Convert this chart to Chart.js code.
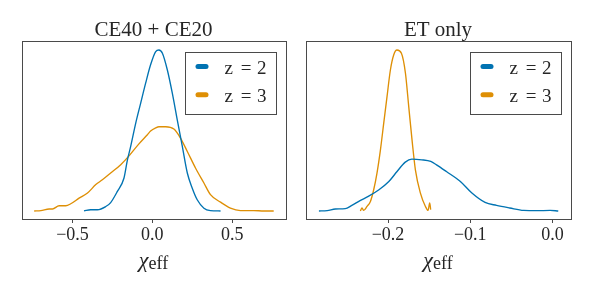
<!DOCTYPE html>
<html>
<head>
<meta charset="utf-8">
<script src="https://cdn.jsdelivr.net/npm/chart.js@4"></script>
<style>
  html, body { margin: 0; padding: 0; background: #fff; }
  #wrap { position: relative; width: 592px; height: 285px; }
  #wrap canvas { position: absolute; top: 0; }
</style>
</head>
<body>
<div id="wrap">
  <canvas id="ceChart" width="296" height="285" style="left:0"></canvas>
  <canvas id="etChart" width="296" height="285" style="left:296px"></canvas>
</div>
<script>
// Posterior densities of chi_eff
const ceZ2X = [-0.428, -0.386, -0.344, -0.292, -0.261, -0.219, -0.178, -0.156, -0.136, -0.104, -0.073, -0.042, -0.011, 0.021, 0.041, 0.063, 0.094, 0.125, 0.156, 0.188, 0.219, 0.250, 0.281, 0.323, 0.364, 0.427];
const ceZ2Y = [0.00, 0.03, 0.03, 0.11, 0.21, 0.49, 0.82, 1.28, 1.61, 2.20, 2.70, 3.20, 3.66, 3.99, 4.03, 3.95, 3.53, 2.95, 2.28, 1.61, 0.95, 0.57, 0.28, 0.07, 0.01, 0.00];
const ceZ3X = [-0.740, -0.698, -0.646, -0.625, -0.584, -0.542, -0.511, -0.459, -0.406, -0.354, -0.313, -0.261, -0.198, -0.146, -0.084, -0.031, -0.011, 0.021, 0.041, 0.083, 0.135, 0.177, 0.219, 0.271, 0.323, 0.364, 0.427, 0.489, 0.552, 0.635, 0.698, 0.760];
const ceZ3Y = [0.00, 0.01, 0.05, 0.05, 0.13, 0.13, 0.18, 0.32, 0.45, 0.66, 0.78, 0.95, 1.16, 1.38, 1.68, 1.91, 2.00, 2.08, 2.11, 2.11, 2.05, 1.82, 1.49, 1.07, 0.70, 0.41, 0.22, 0.07, 0.01, 0.01, 0.00, 0.00];

const etZ2X = [-0.284, -0.274, -0.264, -0.252, -0.244, -0.234, -0.224, -0.211, -0.199, -0.189, -0.179, -0.171, -0.159, -0.148, -0.141, -0.129, -0.112, -0.098, -0.082, -0.068, -0.052, -0.035, -0.019, -0.003, 0.007];
const etZ2Y = [0.00, 0.05, 0.36, 0.42, 1.03, 1.90, 2.69, 3.94, 5.47, 7.32, 9.06, 9.62, 9.49, 9.18, 8.56, 7.32, 5.47, 3.32, 1.58, 1.03, 0.55, 0.10, 0.05, 0.10, 0.00];
const etZ3X = [-0.2336, -0.2316, -0.2296, -0.2255, -0.2214, -0.2174, -0.2134, -0.2092, -0.2052, -0.2012, -0.1971, -0.1931, -0.1891, -0.1837, -0.1788, -0.1748, -0.1708, -0.1667, -0.1606, -0.1545, -0.1513, -0.1493, -0.1481];
const etZ3Y = [0.00, 0.55, 0.10, 0.84, 1.77, 3.94, 7.03, 11.34, 16.29, 21.21, 26.16, 28.94, 29.86, 29.25, 25.55, 19.36, 13.19, 7.64, 3.32, 0.84, 0.10, 1.47, 0.23];

const seriesLabels = ['z = 2', 'z = 3'];
const ceTicks = [-0.5, 0.0, 0.5];
const etTicks = [-0.2, -0.1, 0.0];
const ceRange = [-0.81, 0.837];
const etRange = [-0.2985, 0.0225];

const BLUE = '#0173b2';
const ORANGE = '#de8f05';
const INK = '#262626';
const EDGE = '#4a4a4a';
const SERIF = '"Liberation Serif", "Times New Roman", serif';

function fmtTick(v) {
    const s = Math.abs(v).toFixed(1);
    return v < -1e-9 ? '\u2212' + s : s;
}

// frame, title, legend box and x label, drawn matplotlib-style
const panelDecor = {
    id: 'panelDecor',
    afterDraw(chart, args, opts) {
        const ctx = chart.ctx;
        const a = chart.chartArea;
        ctx.save();

        ctx.strokeStyle = EDGE;
        ctx.lineWidth = 1;
        ctx.strokeRect(a.left - 0.5, a.top - 0.5, a.right - a.left + 1, a.bottom - a.top + 1);

        const cx = (a.left + a.right) / 2;
        ctx.fillStyle = INK;
        ctx.textBaseline = 'alphabetic';
        ctx.textAlign = 'center';
        ctx.font = '21px ' + SERIF;
        ctx.fillText(opts.title, cx - 1, 36);

        // legend
        const bw = 91, bh = 62;
        const bx = a.right - 10.5 - bw;
        const by = a.top + 9.5;
        ctx.fillStyle = 'rgba(255,255,255,0.8)';
        ctx.fillRect(bx, by, bw, bh);
        ctx.strokeStyle = EDGE;
        ctx.strokeRect(Math.round(bx) + 0.5, Math.round(by) + 0.5, bw, bh);
        chart.data.datasets.forEach((ds, i) => {
            const ly = by + 15 + i * 28.3;
            ctx.strokeStyle = ds.borderColor;
            ctx.lineWidth = 5;
            ctx.lineCap = 'round';
            ctx.beginPath();
            ctx.moveTo(bx + 13.5, ly);
            ctx.lineTo(bx + 21.5, ly);
            ctx.stroke();

            const parts = ds.label.split(' ');
            const base = by + 22.5 + i * 28.3;
            ctx.fillStyle = INK;
            ctx.font = '19px ' + SERIF;
            ctx.textAlign = 'left';
            ctx.fillText(parts[0], bx + 40, base);
            ctx.textAlign = 'center';
            ctx.fillText(parts[1], bx + 61.5, base);
            ctx.textAlign = 'left';
            ctx.fillText(parts[2], bx + 72.5, base);
        });

        // x label: chi italic with "eff"
        ctx.fillStyle = INK;
        ctx.textAlign = 'left';
        ctx.font = 'italic 22px ' + SERIF;
        const wChi = ctx.measureText('\u03c7').width;
        ctx.font = '18px ' + SERIF;
        const wEff = ctx.measureText('eff').width;
        const x0 = cx - 1 - (wChi + wEff) / 2;
        ctx.font = 'italic 22px ' + SERIF;
        ctx.fillText('\u03c7', x0, 267);
        ctx.font = '18px ' + SERIF;
        ctx.fillText('eff', x0 + wChi, 268.5);

        ctx.restore();
    }
};

function makeSet(label, xs, ys, color) {
    return {
        label: label,
        data: xs.map((x, i) => ({ x: x, y: ys[i] })),
        borderColor: color,
        backgroundColor: color,
        borderWidth: 1.35,
        pointRadius: 0,
        fill: false,
        cubicInterpolationMode: 'monotone'
    };
}

function buildPanel(canvasId, title, sets, tickVals, range, pad) {
    const peak = Math.max(...sets.flatMap(s => s.data.map(p => p.y)));
    return new Chart(document.getElementById(canvasId).getContext('2d'), {
        type: 'line',
        data: { datasets: sets },
        plugins: [panelDecor],
        options: {
            responsive: false,
            animation: false,
            devicePixelRatio: 1,
            layout: { padding: pad },
            plugins: {
                legend: { display: false },
                tooltip: { enabled: false },
                panelDecor: { title: title }
            },
            scales: {
                x: {
                    type: 'linear',
                    min: range[0],
                    max: range[1],
                    afterBuildTicks: s => { s.ticks = tickVals.map(v => ({ value: v })); },
                    afterFit: s => { s.height = 66; },
                    border: { display: false },
                    grid: {
                        drawOnChartArea: false,
                        drawTicks: true,
                        tickLength: 4,
                        tickColor: EDGE,
                        tickWidth: 1
                    },
                    ticks: {
                        autoSkip: false,
                        maxRotation: 0,
                        padding: 1,
                        color: INK,
                        font: { family: SERIF, size: 18 },
                        callback: v => fmtTick(v)
                    }
                },
                y: {
                    display: false,
                    min: -0.05 * peak,
                    max: 1.05 * peak
                }
            }
        }
    });
}

buildPanel('ceChart', 'CE40 + CE20',
    [makeSet(seriesLabels[0], ceZ2X, ceZ2Y, BLUE), makeSet(seriesLabels[1], ceZ3X, ceZ3Y, ORANGE)],
    ceTicks, ceRange, { top: 42, left: 23, right: 10, bottom: 0 });

buildPanel('etChart', 'ET only',
    [makeSet(seriesLabels[0], etZ2X, etZ2Y, BLUE), makeSet(seriesLabels[1], etZ3X, etZ3Y, ORANGE)],
    etTicks, etRange, { top: 42, left: 11, right: 21, bottom: 0 });
</script>
</body>
</html>
